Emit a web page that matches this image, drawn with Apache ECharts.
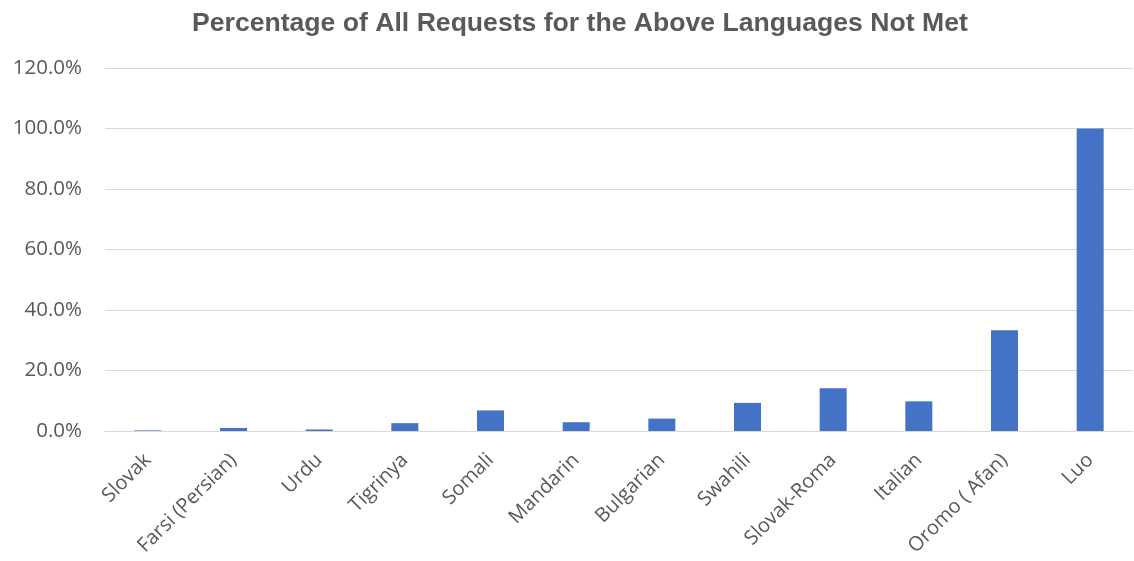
<!DOCTYPE html>
<html>
<head>
<meta charset="utf-8">
<script src="https://cdn.jsdelivr.net/npm/echarts@6/dist/echarts.min.js"></script>
<style>
html,body{margin:0;padding:0;background:#fff;}
#chart{width:1134px;height:561px;}
</style>
</head>
<body>
<div id="chart"></div>
<script>
const categories = ["Slovak","Farsi (Persian)","Urdu","Tigrinya","Somali","Mandarin","Bulgarian","Swahili","Slovak-Roma","Italian","Oromo ( Afan)","Luo"];
const values = [0.2, 1.0, 0.5, 2.6, 6.8, 2.9, 4.1, 9.3, 14.1, 9.8, 33.3, 100.0];
const titleText = "Percentage of All Requests for the Above Languages Not Met";

const labelFont = 'Open Sans, Lato, sans-serif';
const chart = echarts.init(document.getElementById('chart'));
chart.setOption({
  animation: false,
  backgroundColor: '#ffffff',
  title: {
    text: titleText,
    left: 187,
    top: 5,
    textStyle: {fontFamily: 'Liberation Sans, Arial, sans-serif', fontSize: 26.6, fontWeight: 'bold', color: '#595959'}
  },
  grid: {left: 105, right: 1, top: 68, bottom: 130},
  xAxis: {
    type: 'category',
    data: categories,
    axisLine: {lineStyle: {color: '#D9D9D9', width: 1}},
    axisTick: {show: false},
    axisLabel: {
      rotate: 45, interval: 0, margin: 26,
      fontFamily: labelFont, fontSize: 20, color: '#595959'
    }
  },
  yAxis: {
    type: 'value',
    min: 0, max: 120, interval: 20,
    axisLine: {show: false},
    axisTick: {show: false},
    splitLine: {lineStyle: {color: '#D9D9D9', width: 1}},
    axisLabel: {
      margin: 23,
      formatter: v => v.toFixed(1) + '%',
      fontFamily: labelFont, fontSize: 20.5, color: '#595959'
    }
  },
  series: [{
    type: 'bar',
    data: values,
    barWidth: 27,
    itemStyle: {color: '#4472C4'}
  }]
});
</script>
</body>
</html>
